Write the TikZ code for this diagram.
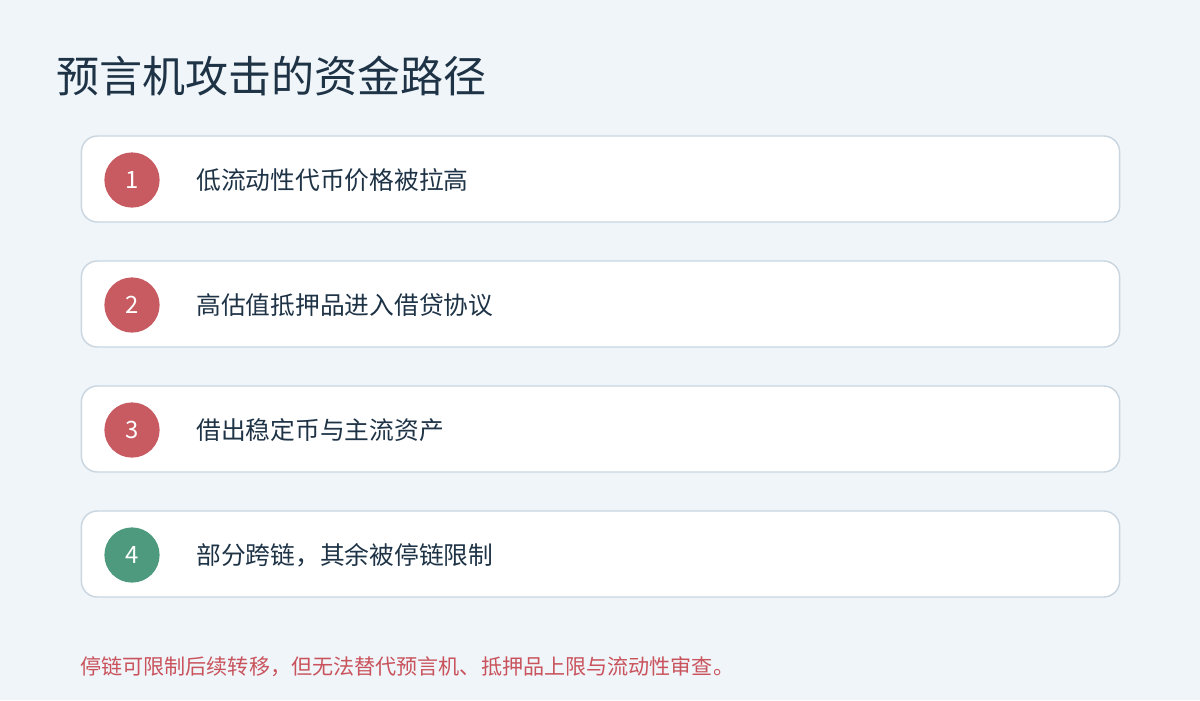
\documentclass[tikz,border=0pt]{standalone}
\usepackage{fontspec}
\setmainfont{Noto Sans CJK SC}
\usepackage{tikz}
\definecolor{bgc}{HTML}{F0F5F9}
\definecolor{edgec}{HTML}{C9D5DF}
\definecolor{redc}{HTML}{C85A62}
\definecolor{greenc}{HTML}{4E9A7E}
\definecolor{inkc}{HTML}{1E3346}
\definecolor{notec}{HTML}{C9535C}

\begin{document}
\begin{tikzpicture}[x=0.025cm, y=-0.025cm,
    card/.style={draw=edgec, line width=1pt, fill=white, rounded corners=0.4cm,
      minimum width=25.95cm, minimum height=2.15cm, inner sep=0pt},
    badge/.style={circle, minimum size=1.38cm, inner sep=0pt, text=white,
      font=\fontsize{17}{20}\selectfont},
    item/.style={anchor=west, inner sep=0pt, text=inkc, font=\fontsize{17.6}{21}\selectfont}]
    \useasboundingbox[fill=bgc] (0,0) rectangle (1200,700);
    \node (t) [anchor=west, inner sep=0pt, text=inkc, font=\fontsize{30.6}{36}\selectfont] at (56,76) {预言机攻击的资金路径};
    \node (a) [card] at (600.5,179) {};
    \node (b) [card] at (600.5,304) {};
    \node (c) [card] at (600.5,429) {};
    \node (d) [card] at (600.5,554) {};
    \node (e) [badge, fill=redc] at (132,180) {1};
    \node (f) [badge, fill=redc] at (132,305) {2};
    \node (g) [badge, fill=redc] at (132,430) {3};
    \node (h) [badge, fill=greenc] at (132,555) {4};
    \node (i) [item] at (196,180) {低流动性代币价格被拉高};
    \node (j) [item] at (196,305) {高估值抵押品进入借贷协议};
    \node (k) [item] at (196,430) {借出稳定币与主流资产};
    \node (l) [item] at (196,555) {部分跨链，其余被停链限制};
    \node (m) [anchor=west, inner sep=0pt, text=notec, font=\fontsize{15}{18}\selectfont] at (80,667) {停链可限制后续转移，但无法替代预言机、抵押品上限与流动性审查。};
  \end{tikzpicture}
\end{document}
